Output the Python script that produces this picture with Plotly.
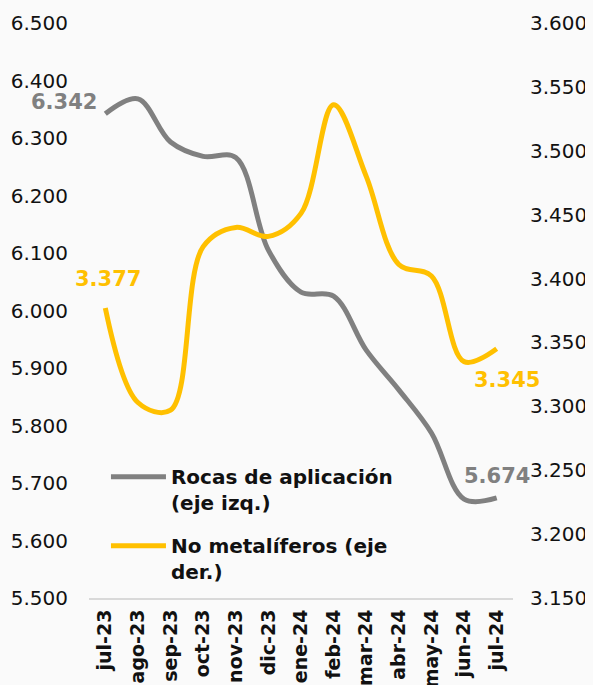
import plotly.graph_objects as go

# Meses (eje X)
meses = ["jul-23", "ago-23", "sep-23", "oct-23", "nov-23", "dic-23", "ene-24",
         "feb-24", "mar-24", "abr-24", "may-24", "jun-24", "jul-24"]

# Rocas de aplicación (eje izquierdo)
rocas = [6342, 6368, 6293, 6268, 6266, 6105, 6032, 6025, 5931, 5862, 5787, 5672, 5674]

# No metalíferos (eje derecho)
no_metaliferos = [3377, 3303, 3297, 3425, 3440, 3433, 3451, 3536, 3480, 3411, 3402, 3335, 3345]

GRIS = "#808080"
AMARILLO = "#ffc000"
FONDO = "#fafafa"
FUENTE = "DejaVu Sans"

x = list(range(len(meses)))

fig = go.Figure()
fig.add_trace(go.Scatter(
    x=x, y=rocas, name="<b>Rocas de aplicación<br>(eje izq.)</b>",
    mode="lines", line=dict(color=GRIS, width=5, shape="spline"),
    yaxis="y", legendgroup="rocas",
))
fig.add_trace(go.Scatter(
    x=x, y=no_metaliferos, name="<b>No metalíferos (eje<br>der.)</b>",
    mode="lines", line=dict(color=AMARILLO, width=5, shape="spline"),
    yaxis="y2", legendgroup="nomet",
))


def etiqueta(i, valores, color, eje, **kw):
    fig.add_annotation(
        x=x[i], y=valores[i], xref="x", yref=eje,
        text=f"<b>{valores[i]:,}</b>".replace(",", "."),
        showarrow=False, font=dict(family=FUENTE, size=21, color=color), **kw)


etiqueta(0, rocas, GRIS, "y", xanchor="right", yanchor="middle", xshift=-6, yshift=12)
etiqueta(-1, rocas, GRIS, "y", xanchor="center", yanchor="bottom", yshift=8)
etiqueta(0, no_metaliferos, AMARILLO, "y2", xanchor="center", yanchor="bottom", xshift=3, yshift=15)
etiqueta(-1, no_metaliferos, AMARILLO, "y2", xanchor="center", yanchor="top", xshift=10, yshift=-17)

# la página deja 8 px de margen: la figura ocupa el resto de la ventana
fig.update_layout(
    width=585, height=677,
    margin=dict(l=81, r=80, t=15, b=87),
    paper_bgcolor=FONDO, plot_bgcolor=FONDO,
    separators=",.",
    font=dict(family=FUENTE, size=20, color="#111111"),
    showlegend=True,
    legend=dict(
        x=0.04, y=0.245, xanchor="left", yanchor="top",
        bgcolor="rgba(0,0,0,0)", valign="top", itemwidth=55,
        font=dict(family=FUENTE, size=20, color="#111111"),
        tracegroupgap=14,
    ),
    xaxis=dict(
        tickmode="array", tickvals=x, ticktext=[f"<b>{m}</b>" for m in meses],
        tickangle=-90, range=[-0.5, len(meses) - 0.5],
        tickfont=dict(family=FUENTE, size=19, color="#111111"),
        showgrid=False, zeroline=False, showline=True,
        linecolor="#d9d9d9", linewidth=2, automargin=False,
        ticks="", ticklabelstandoff=2,
    ),
    yaxis=dict(
        range=[5500, 6500], dtick=100, tickformat=",.0f",
        showgrid=False, zeroline=False, showline=False,
        ticklabelstandoff=20, automargin=False,
    ),
    yaxis2=dict(
        range=[3150, 3600], dtick=50, tickformat=",.0f",
        overlaying="y", side="right",
        showgrid=False, zeroline=False, showline=False,
        ticklabelstandoff=16, automargin=False,
    ),
)

fig.write_html("out.html", post_script=f"document.body.style.background='{FONDO}';")
